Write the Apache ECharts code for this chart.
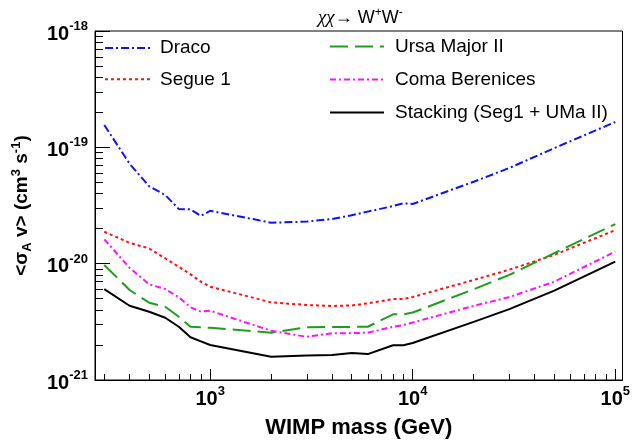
<!DOCTYPE html>
<html><head><meta charset="utf-8">
<script src="https://cdn.jsdelivr.net/npm/echarts@6/dist/echarts.min.js"></script>
<style>html,body{margin:0;padding:0;background:#fff}#c{width:633px;height:444px}</style>
</head><body><div id="c"></div>
<script>
// WIMP mass (GeV)
const masses = [300, 400, 500, 600, 700, 800, 900, 1000, 2000, 3000, 4000, 5000, 6000, 8000, 9000, 10000, 20000, 30000, 50000, 100000];
// <sigma_A v> upper limits (cm^3 s^-1)
const draco   = [1.556e-19, 7.23e-20, 4.62e-20, 3.89e-20, 2.95e-20, 2.93e-20, 2.57e-20, 2.85e-20, 2.25e-20, 2.30e-20, 2.42e-20, 2.61e-20, 2.80e-20, 3.13e-20, 3.30e-20, 3.26e-20, 5.06e-20, 6.65e-20, 9.85e-20, 1.65e-19];
const segue1  = [1.88e-20, 1.51e-20, 1.35e-20, 1.11e-20, 9.4e-21, 8.1e-21, 7.0e-21, 6.34e-21, 4.65e-21, 4.41e-21, 4.33e-21, 4.37e-21, 4.56e-21, 4.97e-21, 4.97e-21, 5.17e-21, 7.24e-21, 8.87e-21, 1.19e-20, 1.94e-20];
const umaII   = [9.75e-21, 5.94e-21, 4.62e-21, 4.26e-21, 3.50e-21, 2.87e-21, 2.84e-21, 2.81e-21, 2.55e-21, 2.84e-21, 2.86e-21, 2.86e-21, 2.87e-21, 3.67e-21, 3.67e-21, 3.80e-21, 6.03e-21, 8.0e-21, 1.23e-20, 2.19e-20];
const comaBer = [1.62e-20, 9.22e-21, 6.64e-21, 6.05e-21, 5.14e-21, 4.21e-21, 3.87e-21, 3.94e-21, 2.65e-21, 2.35e-21, 2.52e-21, 2.53e-21, 2.55e-21, 2.87e-21, 2.97e-21, 3.12e-21, 4.34e-21, 5.16e-21, 7.0e-21, 1.27e-20];
const stacking = [6.05e-21, 4.35e-21, 3.86e-21, 3.43e-21, 2.87e-21, 2.33e-21, 2.15e-21, 2.0e-21, 1.585e-21, 1.62e-21, 1.64e-21, 1.71e-21, 1.67e-21, 1.99e-21, 1.99e-21, 2.08e-21, 3.16e-21, 4.07e-21, 5.86e-21, 1.04e-20];

const seriesNames = ['Draco', 'Segue 1', 'Ursa Major II', 'Coma Berenices', 'Stacking (Seg1 + UMa II)'];

const xMajorTicks = [1000, 10000, 100000];
const xMinorTicks = [300, 400, 500, 600, 700, 800, 900, 2000, 3000, 4000, 5000, 6000, 7000, 8000, 9000, 20000, 30000, 40000, 50000, 60000, 70000, 80000, 90000];
const yMajorTicks = [1e-21, 1e-20, 1e-19, 1e-18];
const yMinorTicks = [2e-21, 3e-21, 4e-21, 5e-21, 6e-21, 7e-21, 8e-21, 9e-21, 2e-20, 3e-20, 4e-20, 5e-20, 6e-20, 7e-20, 8e-20, 9e-20, 2e-19, 3e-19, 4e-19, 5e-19, 6e-19, 7e-19, 8e-19, 9e-19];

const FONT = '"Liberation Sans", Arial, Helvetica, sans-serif';
const expLabel = v => '{b|10}{s|' + Math.round(Math.log10(v)) + '}';
const tickRich = {
  b: { fontSize: 20, fontWeight: 'bold', fontFamily: FONT, color: '#000', lineHeight: 28 },
  s: { fontSize: 13, fontWeight: 'bold', fontFamily: FONT, color: '#000', verticalAlign: 'top', lineHeight: 13 }
};

const xMin = 270, xMax = 108600, yMin = 0.9999e-21, yMax = 1.0001e-18;

function mk(name, vals, color, type) {
  return {
    name, type: 'line', xAxisIndex: 0, yAxisIndex: 0, symbol: 'none', showSymbol: false,
    data: masses.map((m, i) => [m, vals[i]]),
    lineStyle: { color, width: 2, type },
    itemStyle: { color },
    animation: false
  };
}

const legendCommon = {
  orient: 'vertical', itemHeight: 16, selectedMode: false, padding: 0,
  itemStyle: { color: 'rgba(0,0,0,0)', borderWidth: 0, opacity: 0 }
};
const legendText = pad => ({ fontSize: 19, color: '#000', fontFamily: FONT, lineHeight: 20, padding: [0, 0, 0, pad] });

const chart = echarts.init(document.getElementById('c'), null, { renderer: 'canvas' });
chart.setOption({
  animation: false,
  backgroundColor: '#fff',
  grid: { left: 95, right: 8, top: 31, bottom: 64, show: true, borderColor: '#000', borderWidth: 1, backgroundColor: 'transparent' },
  xAxis: [
    { type: 'log', min: xMin, max: xMax, position: 'bottom',
      axisLine: { show: true, lineStyle: { color: '#000', width: 1 } },
      axisTick: { show: true, inside: true, length: 11, customValues: xMajorTicks, lineStyle: { color: '#000', width: 1 } },
      axisLabel: { show: true, customValues: xMajorTicks, formatter: expLabel, rich: tickRich, margin: 5 },
      splitLine: { show: false }, minorTick: { show: false },
      name: 'WIMP mass (GeV)', nameLocation: 'middle', nameGap: 37,
      nameTextStyle: { fontSize: 22, fontWeight: 'bold', fontFamily: FONT, color: '#000' } },
    { type: 'log', min: xMin, max: xMax, position: 'bottom',
      axisLine: { show: false },
      axisTick: { show: true, inside: true, length: 6, customValues: xMinorTicks, lineStyle: { color: '#000', width: 1 } },
      axisLabel: { show: false }, splitLine: { show: false } }
  ],
  yAxis: [
    { type: 'log', min: yMin, max: yMax, position: 'left',
      axisLine: { show: true, lineStyle: { color: '#000', width: 1 } },
      axisTick: { show: true, inside: true, length: 15, customValues: yMajorTicks, lineStyle: { color: '#000', width: 1 } },
      axisLabel: { show: true, customValues: yMajorTicks, formatter: expLabel, rich: tickRich, margin: 7, padding: [6, 0, 0, 0] },
      splitLine: { show: false },
      name: '{t|<σ}{sub|A}{t| v> (cm}{sup|3}{t| s}{sup|-1}{t|)}', nameLocation: 'middle', nameGap: 61, nameRotate: 90,
      nameTextStyle: { rich: {
        t: { fontSize: 19, fontWeight: 'bold', fontFamily: FONT, color: '#000', lineHeight: 24 },
        sub: { fontSize: 13, fontWeight: 'bold', fontFamily: FONT, color: '#000', verticalAlign: 'bottom', lineHeight: 13 },
        sup: { fontSize: 13, fontWeight: 'bold', fontFamily: FONT, color: '#000', verticalAlign: 'top', lineHeight: 13 }
      } } },
    { type: 'log', min: yMin, max: yMax, position: 'left',
      axisLine: { show: false },
      axisTick: { show: true, inside: true, length: 8, customValues: yMinorTicks, lineStyle: { color: '#000', width: 1 } },
      axisLabel: { show: false }, splitLine: { show: false } }
  ],
  legend: [
    Object.assign({}, legendCommon, { data: seriesNames.slice(0, 2), left: 104, top: 38, itemWidth: 46, itemGap: 11.3, textStyle: legendText(4) }),
    Object.assign({}, legendCommon, { data: seriesNames.slice(2), left: 329, top: 36.5, itemWidth: 54, itemGap: 13, textStyle: legendText(6) })
  ],
  graphic: [
    { type: 'text', left: 318, top: 7, style: {
      text: '{c|χχ}{n|→ W}{p|+}{n|W}{p|-}',
      rich: {
        c: { fontSize: 19, fontStyle: 'italic', fontFamily: '"Liberation Serif", "Times New Roman", serif', color: '#000', lineHeight: 22 },
        n: { fontSize: 18, fontFamily: FONT, color: '#000', lineHeight: 22 },
        p: { fontSize: 12, fontFamily: FONT, color: '#000', verticalAlign: 'top', lineHeight: 12 }
      } } }
  ],
  series: [
    mk(seriesNames[0], draco, '#1010ff', [8, 3, 2, 3]),
    mk(seriesNames[1], segue1, '#ff1010', [3, 3]),
    mk(seriesNames[2], umaII, '#1e9e1e', [18, 7]),
    mk(seriesNames[3], comaBer, '#ff10ff', [6, 3, 2, 3]),
    mk(seriesNames[4], stacking, '#000000', 'solid')
  ]
});
</script></body></html>
